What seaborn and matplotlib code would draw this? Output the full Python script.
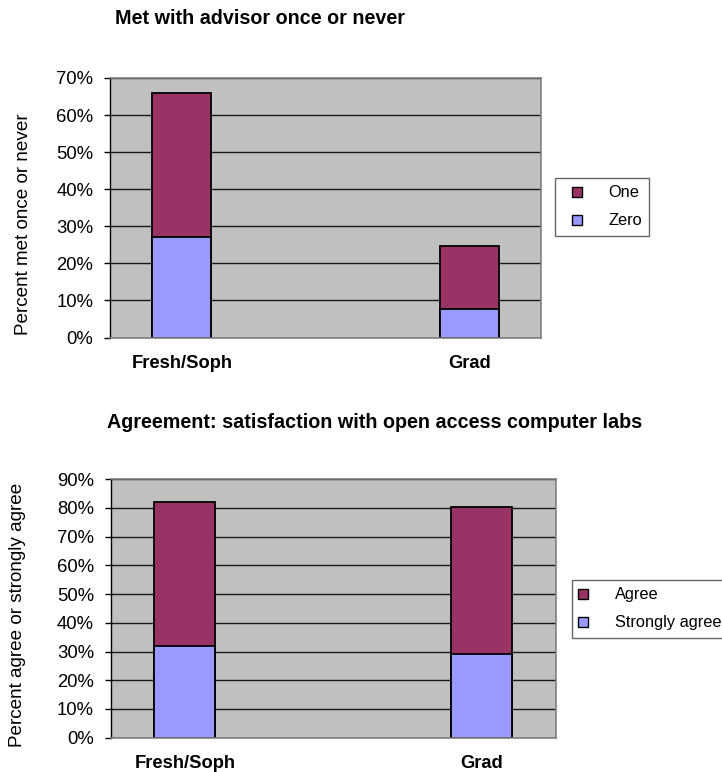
import matplotlib
matplotlib.use("Agg")
import matplotlib.pyplot as plt
from matplotlib.ticker import PercentFormatter, MultipleLocator
from matplotlib.lines import Line2D
import seaborn as sns
import pandas as pd

# --- data -------------------------------------------------------------
groups = ["Fresh/Soph", "Grad"]
# slot order on the category axis (middle slot is empty)
slots = ["Fresh/Soph", " ", "Grad"]

advisor_zero = [27.0, 7.6]
advisor_one = [39.0, 17.1]

labs_strongly = [32.0, 29.2]
labs_agree = [50.0, 51.1]

titles = ["Met with advisor once or never",
          "Agreement: satisfaction with open access computer labs"]
ylabels = ["Percent met once or never", "Percent agree or strongly agree"]
legend_labels = [["One", "Zero"], ["Agree", "Strongly agree"]]

TOP_COLOR = "#993366"
BOTTOM_COLOR = "#9999FF"
PLOT_BG = "#C0C0C0"

sns.set_theme(style="white")
plt.rcParams["font.family"] = ["Liberation Sans", "DejaVu Sans"]
plt.rcParams.update({"text.color": "black", "axes.labelcolor": "black",
                     "xtick.color": "black", "ytick.color": "black"})

fig = plt.figure(figsize=(7.22, 7.72), dpi=100)

W, H = 722.0, 772.0


def px_axes(left, top, right, bottom):
    return fig.add_axes([left / W, 1 - bottom / H, (right - left) / W, (bottom - top) / H])


ax1 = px_axes(110.0, 78.0, 541.0, 337.5)
ax2 = px_axes(110.7, 479.3, 555.7, 737.6)


def stacked(ax, lower, upper, ymax, title, ylabel, labels, title_xy, ylabel_xy,
            legend_box, legend_kw):
    df = pd.DataFrame({"group": groups, "lower": lower,
                       "total": [a + b for a, b in zip(lower, upper)]})
    ax.set_facecolor(PLOT_BG)
    ax.set_axisbelow(True)
    ax.yaxis.grid(True, color="#1a1a1a", linewidth=1.0)
    ax.xaxis.grid(False)

    sns.barplot(data=df, x="group", y="total", order=slots, color=TOP_COLOR,
                saturation=1, width=0.41, edgecolor="black", linewidth=1.3, ax=ax)
    sns.barplot(data=df, x="group", y="lower", order=slots, color=BOTTOM_COLOR,
                saturation=1, width=0.41, edgecolor="black", linewidth=1.3, ax=ax)

    ax.set_xlim(-0.5, 2.5)
    ax.set_ylim(0, ymax)
    ax.yaxis.set_major_locator(MultipleLocator(10))
    ax.yaxis.set_major_formatter(PercentFormatter(xmax=100, decimals=0))
    ax.set_xlabel("")
    ax.set_ylabel("")

    for side in ("top", "right", "bottom"):
        ax.spines[side].set_color("#808080")
        ax.spines[side].set_linewidth(1.2)
    ax.spines["left"].set_color("black")
    ax.spines["left"].set_linewidth(1.0)

    ax.tick_params(axis="y", which="major", direction="out", length=4.5, width=1.0,
                   color="black", pad=7.5, labelsize=13.3, left=True)
    ax.tick_params(axis="x", length=0, pad=12.5, labelsize=13.2)
    for t in ax.get_xticklabels():
        t.set_fontweight("bold")

    fig.text(title_xy[0] / W, 1 - title_xy[1] / H, title, fontsize=14.2,
             fontweight="bold", ha="left", va="center")
    fig.text(ylabel_xy[0] / W, 1 - ylabel_xy[1] / H, ylabel, fontsize=13.6,
             rotation=90, ha="center", va="center")

    handles = [Line2D([], [], linestyle="none", marker="s", markersize=6.5,
                      markerfacecolor=c, markeredgecolor="black", markeredgewidth=1.0)
               for c in (TOP_COLOR, BOTTOM_COLOR)]
    lx, ly = legend_box
    leg = fig.legend(handles, labels, loc="upper left",
                     bbox_to_anchor=(lx / W, 1 - ly / H), fontsize=11.8,
                     frameon=True, fancybox=False, edgecolor="#404040",
                     labelspacing=0.8, borderaxespad=0, **legend_kw)
    leg.get_frame().set_linewidth(1.0)


stacked(ax1, advisor_zero, advisor_one, 70, titles[0], ylabels[0], legend_labels[0],
        (115, 18), (24, 224), (555, 178),
        dict(borderpad=0.45, handlelength=1.74, handletextpad=1.05))
stacked(ax2, labs_strongly, labs_agree, 90, titles[1], ylabels[1], legend_labels[1],
        (107, 422), (18, 615), (572, 580),
        dict(borderpad=0.45, handlelength=0.39, handletextpad=1.8))

fig.savefig("out.png", dpi=100)
